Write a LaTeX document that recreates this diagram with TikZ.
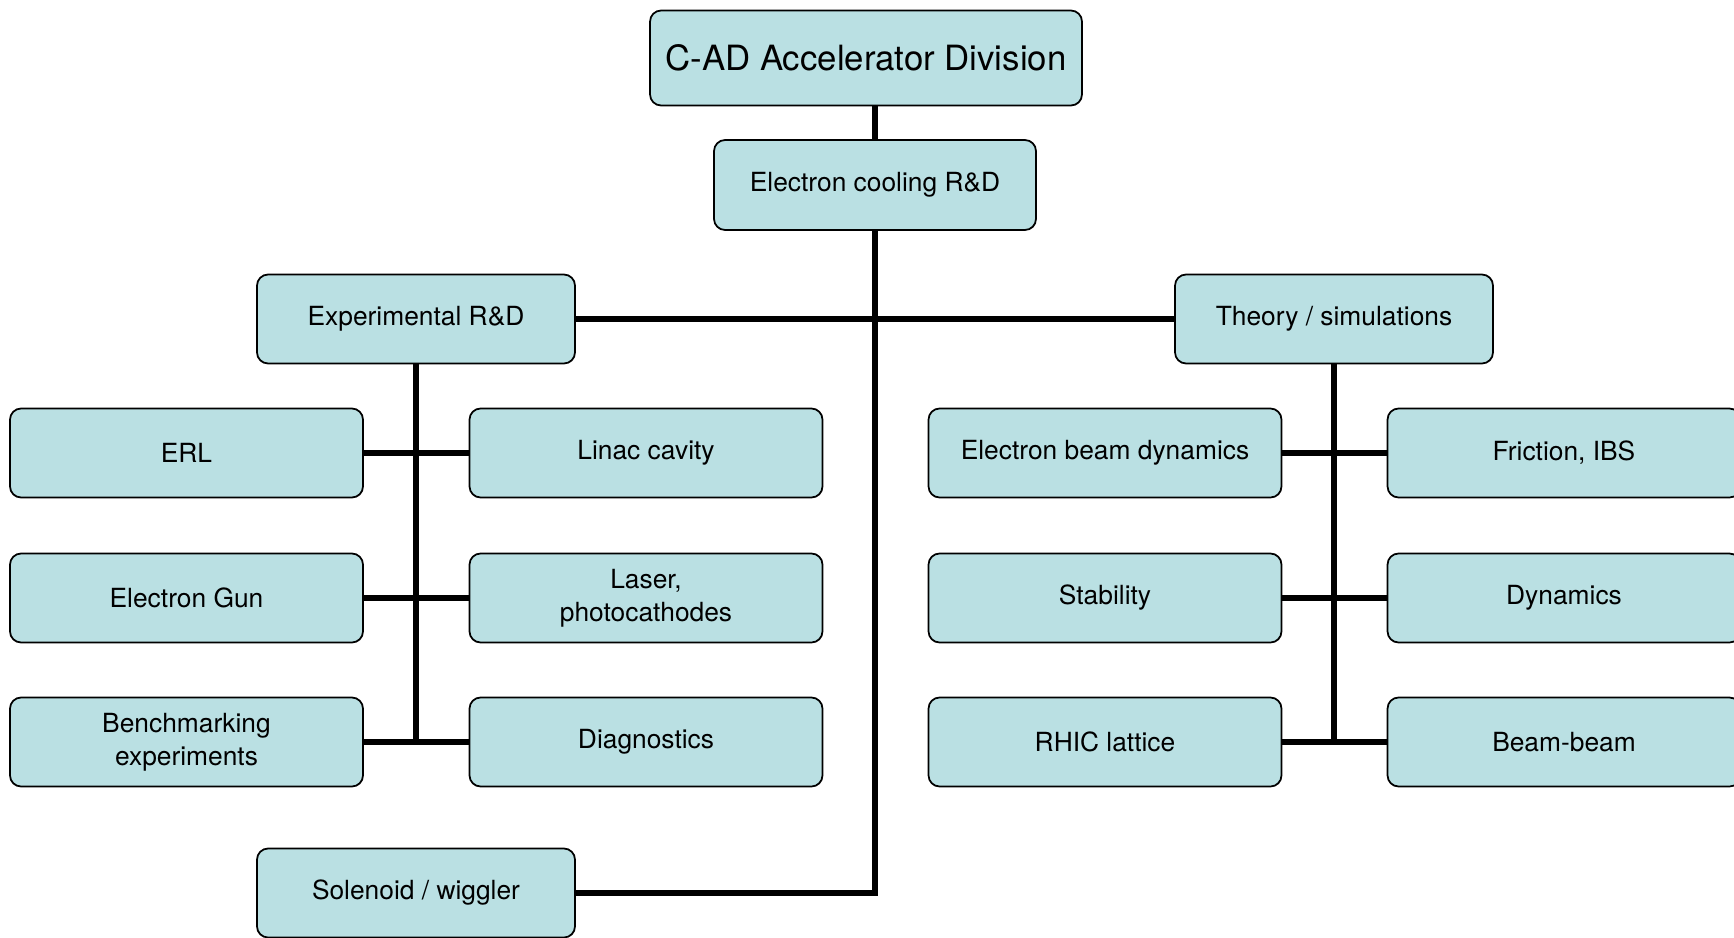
\documentclass[tikz,border=0pt]{standalone}
\usepackage{fontspec}
\setmainfont{TeX Gyre Heros}
\definecolor{boxfill}{RGB}{186,224,227}
\begin{document}
\begin{tikzpicture}[x=0.02cm, y=-0.02cm]
\tikzstyle{box_style} = [draw=black, line width=1pt, rounded corners=0.22cm, fill=boxfill, align=center, inner sep=0pt, minimum width=6.36cm, minimum height=1.78cm, font=\fontsize{15}{19}\selectfont]
\tikzstyle{wide_style} = [box_style, minimum width=7.06cm]
\tikzstyle{edge_style} = [black, line width=3.6pt]
\useasboundingbox (0,0) rectangle (1734,937);
    \node[box_style, minimum width=8.64cm, minimum height=1.9cm, font=\fontsize{19.8}{23}\selectfont] (top) at (866,58) {C-AD Accelerator Division};
    \node[box_style, minimum width=6.44cm, minimum height=1.8cm] (cool) at (875,185) {Electron cooling R\&D};
    \node[box_style] (exp) at (416,319) {Experimental R\&D};
    \node[box_style] (theo) at (1334,319) {Theory / simulations};
    \node[box_style] (sol) at (416,893) {Solenoid / wiggler};

    \node[wide_style] (erl) at (186.5,453) {ERL};
    \node[wide_style] (gun) at (186.5,598) {Electron Gun};
    \node[wide_style] (bench) at (186.5,742) {Benchmarking\\experiments};
    \node[wide_style] (linac) at (646,453) {Linac cavity};
    \node[wide_style] (laser) at (646,598) {Laser,\\photocathodes};
    \node[wide_style] (diag) at (646,742) {Diagnostics};

    \node[wide_style] (ebd) at (1105,453) {Electron beam dynamics};
    \node[wide_style] (stab) at (1105,598) {Stability};
    \node[wide_style] (rhic) at (1105,742) {RHIC lattice};
    \node[wide_style] (fric) at (1564,453) {Friction, IBS};
    \node[wide_style] (dyn) at (1564,598) {Dynamics};
    \node[wide_style] (bb) at (1564,742) {Beam-beam};

    \draw[edge_style] (cool |- top.south) -- (cool);
    \draw[edge_style] (exp) -- (theo);
    \draw[edge_style] (cool) -- (cool |- sol) -- (sol);

    \draw[edge_style] (exp) -- (exp |- bench);
    \draw[edge_style] (erl) -- (linac);
    \draw[edge_style] (gun) -- (laser);
    \draw[edge_style] (bench) -- (diag);

    \draw[edge_style] (theo) -- (theo |- rhic);
    \draw[edge_style] (ebd) -- (fric);
    \draw[edge_style] (stab) -- (dyn);
    \draw[edge_style] (rhic) -- (bb);
\end{tikzpicture}
\end{document}
